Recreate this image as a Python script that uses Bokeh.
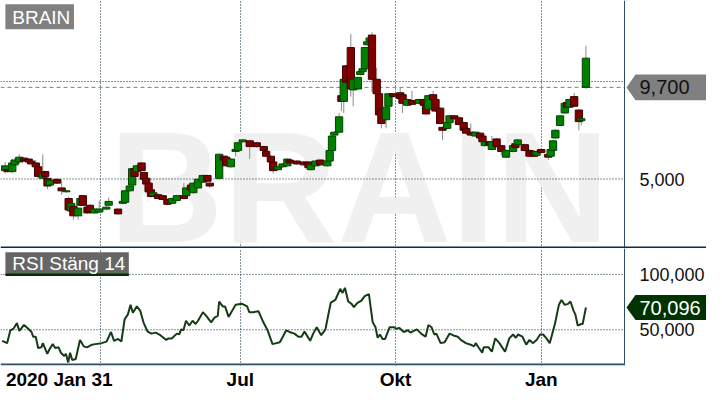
from bokeh.plotting import figure
from bokeh.layouts import column
from bokeh.models import FixedTicker, Range1d, ColumnDataSource
from bokeh.core.properties import value
from bokeh.embed import file_html
from bokeh.resources import INLINE

# ---------------- data ----------------
ticker_name = "BRAIN"
rsi_title = "RSI Stäng 14"

# trading-day index of each candle
c_day = [2, 3, 5, 6, 8, 10, 12, 13, 15, 16,
         18, 19, 20, 21, 24, 26, 28, 29, 30, 31,
         33, 34, 35, 37, 38, 40, 42, 45, 46, 50,
         52, 53, 55, 56, 57, 58, 60, 61, 62, 63,
         64, 65, 67, 69, 71, 73, 75, 78, 79, 81,
         82, 84, 86, 88, 89, 93, 95, 96, 98, 100,
         101, 103, 106, 109, 112, 113, 115, 116, 118, 120,
         122, 123, 126, 129, 131, 132, 134, 136, 139, 140,
         141, 142, 144, 145, 146, 147, 149, 150, 152, 153,
         154, 155, 156, 157, 158, 160, 161, 162, 164, 165,
         167, 170, 171, 173, 175, 178, 180, 181, 182, 184,
         185, 187, 188, 190, 191, 193, 195, 197, 198, 200,
         202, 204, 205, 206, 208, 209, 211, 213, 215, 218,
         219, 220, 223, 225, 227, 228, 230, 233, 234, 235,
         236, 238, 240, 241, 242, 244, 246, 247, 249]

c_open = [5.429, 5.478, 5.380, 5.725, 5.873, 6.070, 6.021, 5.922, 5.824, 5.626,
          5.035, 5.380, 5.035, 4.689, 4.985, 4.542, 4.344, 3.999, 3.358, 3.605,
          3.112, 3.654, 4.147, 3.555, 3.654, 3.260, 3.309, 3.457, 3.654, 3.457,
          3.753, 3.802, 4.394, 4.689, 5.528, 5.380, 5.824, 5.330, 5.035, 4.788,
          4.443, 4.147, 4.196, 4.147, 3.950, 3.753, 3.901, 4.147, 4.147, 4.689,
          4.295, 4.542, 4.837, 5.182, 4.788, 5.035, 6.169, 6.120, 5.626, 6.415,
          6.465, 6.908, 6.958, 6.859, 6.662, 6.415, 6.169, 5.873, 5.478, 5.626,
          5.676, 5.972, 5.922, 5.873, 5.873, 5.478, 5.676, 5.972, 5.676, 5.922,
          6.465, 7.253, 7.401, 9.275, 8.980, 10.804, 11.741, 9.571, 9.620, 10.360,
          10.508, 10.656, 11.889, 12.086, 12.382, 10.114, 9.374, 8.585, 8.042, 8.733,
          9.374, 9.423, 9.325, 8.782, 9.029, 8.881, 9.078, 8.831, 8.585, 9.325,
          9.078, 8.634, 7.648, 7.598, 7.894, 8.240, 8.141, 7.894, 7.598, 7.401,
          7.204, 7.352, 7.204, 6.711, 6.908, 6.514, 7.056, 6.711, 6.120, 6.415,
          6.810, 6.760, 6.760, 6.465, 6.415, 6.218, 6.514, 6.267, 6.169, 6.465,
          7.106, 7.747, 8.388, 8.930, 8.684, 9.226, 8.536, 7.993, 9.700]

c_high = [5.873, 5.528, 6.021, 6.070, 6.267, 6.120, 6.070, 5.972, 5.972, 5.774,
          6.267, 5.429, 5.133, 4.985, 5.035, 4.936, 4.443, 4.098, 3.802, 3.654,
          3.555, 4.049, 4.196, 3.605, 3.703, 3.506, 3.901, 3.605, 4.049, 3.506,
          3.901, 4.443, 4.689, 5.577, 5.577, 5.725, 5.873, 5.380, 5.084, 4.837,
          4.492, 4.344, 4.246, 4.196, 3.999, 4.049, 4.196, 4.788, 4.591, 4.739,
          4.837, 5.035, 5.232, 5.232, 4.837, 6.317, 6.218, 6.169, 6.070, 6.859,
          6.908, 7.056, 7.007, 6.908, 6.711, 6.465, 6.218, 5.922, 5.676, 5.824,
          6.070, 6.021, 5.972, 5.922, 5.922, 5.774, 5.972, 6.021, 5.972, 6.514,
          7.253, 7.451, 8.388, 9.325, 10.163, 10.853, 12.431, 10.163, 10.262, 10.557,
          10.705, 11.790, 12.086, 12.283, 12.530, 10.705, 9.423, 8.634, 8.733, 9.423,
          9.423, 9.719, 9.374, 9.127, 9.521, 9.127, 9.127, 8.881, 9.325, 9.521,
          9.127, 8.684, 7.697, 7.944, 8.289, 8.289, 8.191, 7.944, 7.648, 7.845,
          7.451, 7.401, 7.253, 6.958, 6.958, 7.204, 7.106, 6.760, 6.514, 6.760,
          6.958, 7.056, 6.810, 6.514, 6.465, 6.465, 6.563, 6.317, 6.563, 7.007,
          7.549, 8.289, 8.930, 8.980, 9.127, 9.423, 8.585, 8.141, 11.839]

c_low = [5.281, 5.331, 5.281, 5.676, 5.774, 5.873, 5.824, 5.725, 5.528, 5.035,
         4.985, 5.084, 4.492, 4.640, 4.739, 4.196, 4.295, 3.358, 3.309, 2.914,
         2.914, 3.605, 3.605, 3.210, 3.260, 3.210, 3.260, 3.408, 3.605, 3.161,
         3.703, 3.753, 4.344, 4.640, 5.084, 5.330, 5.380, 4.936, 4.689, 4.295,
         4.049, 4.098, 3.950, 3.901, 3.654, 3.703, 3.851, 3.950, 4.098, 4.394,
         4.246, 4.492, 4.788, 4.837, 4.542, 4.985, 5.922, 5.626, 5.577, 6.169,
         6.415, 6.859, 6.021, 6.613, 6.415, 6.120, 5.824, 5.281, 5.429, 5.577,
         5.626, 5.774, 5.725, 5.676, 5.528, 5.429, 5.626, 5.676, 5.626, 5.873,
         6.415, 7.204, 7.352, 8.486, 8.388, 9.917, 9.226, 8.733, 9.571, 10.311,
         10.459, 10.607, 11.839, 12.037, 9.472, 9.325, 8.240, 7.598, 7.598, 8.684,
         9.176, 9.078, 8.388, 8.733, 8.782, 8.831, 8.388, 8.289, 8.536, 9.029,
         8.437, 7.796, 7.007, 7.549, 7.845, 8.042, 7.747, 7.450, 7.303, 7.204,
         7.155, 7.056, 6.859, 6.662, 6.711, 6.465, 6.613, 6.218, 6.070, 6.366,
         6.563, 6.711, 6.415, 6.120, 6.120, 6.169, 6.317, 5.972, 6.120, 6.415,
         7.056, 7.697, 8.338, 8.634, 8.634, 8.684, 7.500, 7.747, 9.620]

c_close = [5.676, 5.380, 5.824, 5.972, 6.120, 5.922, 5.873, 5.774, 5.626, 5.133,
           5.281, 5.133, 4.640, 4.936, 4.788, 4.394, 4.394, 3.408, 3.753, 3.112,
           3.506, 3.999, 3.654, 3.260, 3.309, 3.457, 3.457, 3.555, 3.851, 3.210,
           3.851, 4.394, 4.640, 5.528, 5.133, 5.676, 5.429, 4.985, 4.739, 4.344,
           4.098, 4.295, 3.999, 3.950, 3.703, 3.999, 4.147, 3.999, 4.542, 4.443,
           4.788, 4.985, 5.182, 4.887, 4.640, 6.267, 5.972, 5.676, 6.021, 6.514,
           6.859, 7.007, 6.662, 6.662, 6.465, 6.169, 5.873, 5.429, 5.626, 5.774,
           6.021, 5.824, 5.774, 5.725, 5.577, 5.725, 5.922, 5.725, 5.922, 6.465,
           7.204, 7.401, 8.191, 8.980, 10.114, 9.966, 9.620, 10.114, 10.212, 10.508,
           10.656, 11.741, 12.037, 12.234, 10.114, 9.374, 8.289, 7.845, 8.684, 9.374,
           9.226, 9.127, 8.881, 9.078, 8.831, 9.078, 8.782, 8.338, 9.275, 9.078,
           8.486, 7.845, 7.500, 7.894, 8.240, 8.092, 7.796, 7.500, 7.352, 7.253,
           7.401, 7.106, 6.908, 6.908, 6.760, 6.908, 6.662, 6.415, 6.465, 6.711,
           6.613, 7.007, 6.465, 6.169, 6.169, 6.415, 6.366, 6.120, 6.514, 6.958,
           7.500, 8.240, 8.881, 8.684, 9.078, 8.733, 7.944, 8.092, 11.198]

rsi_day = [0.7, 2.8, 4.2, 5.5, 7.0, 8.0, 10.0, 11.8, 13.2, 13.9,
           15.0, 16.0, 17.4, 18.0, 19.9, 20.8, 22.2, 23.3, 24.7, 25.7,
           27.1, 27.8, 28.8, 29.6, 30.5, 32.0, 33.8, 35.4, 36.8, 38.9,
           40.3, 43.0, 45.1, 47.0, 48.3, 50.0, 51.4, 52.8, 54.2, 55.3,
           56.3, 58.0, 59.5, 60.8, 62.5, 64.2, 66.0, 68.0, 70.5, 71.5,
           72.9, 73.6, 75.0, 76.1, 76.8, 77.8, 78.9, 80.3, 81.7, 83.0,
           84.0, 86.1, 87.5, 89.6, 91.0, 92.4, 93.0, 94.5, 95.5, 97.0,
           100.0, 102.8, 104.9, 105.8, 107.6, 109.7, 111.8, 113.6, 115.7, 118.8,
           120.1, 121.5, 122.9, 125.0, 126.7, 128.0, 129.3, 131.7, 133.0, 134.5,
           136.4, 138.2, 139.6, 140.5, 142.4, 144.5, 145.5, 146.5, 147.9, 149.3,
           150.3, 151.7, 153.5, 154.9, 156.7, 158.3, 159.5, 160.4, 161.4, 162.5,
           163.6, 165.5, 167.4, 168.3, 169.7, 171.5, 173.3, 174.3, 177.1, 178.9,
           180.8, 182.0, 183.3, 184.5, 185.4, 187.2, 188.9, 191.0, 193.0, 194.5,
           195.8, 197.9, 200.0, 201.4, 202.1, 203.5, 204.9, 205.5, 207.6, 209.0,
           210.4, 212.2, 214.6, 216.4, 218.0, 219.2, 220.1, 222.0, 223.6, 225.0,
           226.4, 228.0, 229.5, 230.8, 232.2, 233.6, 235.8, 237.5, 238.6, 240.0,
           241.4, 242.4, 243.8, 244.5, 245.5, 247.0, 247.6, 249.0]

rsi_val = [39.9, 37.9, 49.5, 50.9, 56.0, 48.9, 54.3, 50.9, 48.0, 43.7,
           43.7, 33.5, 34.1, 37.9, 28.3, 32.1, 37.0, 33.5, 34.1, 29.2,
           26.3, 28.3, 20.5, 29.2, 22.6, 23.5, 40.8, 35.0, 34.1, 36.5,
           37.0, 37.9, 39.3, 48.0, 39.9, 41.7, 39.3, 59.5, 63.9, 72.5,
           65.3, 71.1, 66.8, 56.7, 48.6, 46.5, 47.4, 45.1, 40.8, 42.2,
           42.2, 43.7, 46.5, 46.0, 50.3, 49.5, 58.1, 53.8, 58.1, 55.2,
           58.1, 65.9, 62.5, 56.7, 61.0, 62.5, 75.5, 71.1, 71.1, 61.6,
           72.5, 73.4, 71.1, 65.9, 65.9, 66.8, 56.7, 49.5, 37.0, 38.7,
           43.7, 49.5, 48.0, 46.5, 43.7, 43.7, 48.3, 40.0, 46.5, 52.3,
           45.1, 50.3, 65.3, 74.6, 76.9, 87.0, 83.3, 87.9, 75.5, 73.4,
           70.5, 74.0, 76.3, 80.3, 82.1, 56.7, 52.3, 42.8, 45.7, 41.7,
           41.7, 52.3, 52.3, 50.9, 51.5, 48.0, 49.5, 47.4, 50.3, 46.5,
           43.7, 54.3, 52.3, 45.7, 46.5, 37.9, 38.7, 46.5, 44.5, 43.7,
           40.8, 37.9, 36.5, 35.0, 37.9, 33.5, 29.2, 34.1, 34.1, 30.1,
           42.2, 37.9, 30.1, 42.2, 45.7, 42.8, 45.7, 43.7, 36.5, 40.8,
           37.9, 40.8, 45.7, 45.7, 42.2, 37.9, 55.2, 72.5, 76.9, 72.5,
           73.4, 75.5, 66.8, 63.9, 53.8, 55.2, 55.2, 70.096]

last_price = 9.700
last_rsi = 70.096

x_label_days = [25, 102, 168, 230]
x_labels = ["2020 Jan 31", "Jul", "Okt", "Jan"]
x_grid_days = [42.5, 102, 168, 230]

price_grid = [5.0, 10.0]
price_ticks = [5.0]
price_tick_labels = ["5,000"]
rsi_grid = [50, 100]
rsi_ticks = [100, 50]
rsi_tick_labels = ["100,000", "50,000"]

# ---------------- geometry / style ----------------
FONT = "Liberation Sans"
FIG_W = 706
FRAME_W = 624          # pixel width of the chart area (rest: price labels)
X_DAYS = 265.4         # trading days visible in the chart area
X_END = X_DAYS * FIG_W / FRAME_W
TOP_H = 248
RSI_H = 147
RSI_AXIS_H = 30
P_LO, P_HI = 1.435, 14.157
R_LO, R_HI = 17.7, 123.4

GRID_C = "#06283a"
GRID_DASH = "1 2"
FRAME_C = "#2e4d6b"


def fx(px):            # figure pixel -> day units
    return px * X_DAYS / FRAME_W


def rx(px):            # reference chart pixel -> day units
    return px * X_DAYS / 637.0


def ry_top(py):
    return P_HI - py * (P_HI - P_LO) / 258.0


def ry_rsi(py):
    return R_HI - (py - 258.0) * (R_HI - R_LO) / 122.0


def fmt(v):
    return f"{v:.3f}".replace(".", ",")


def add_text(p, x, y, txt, size, color, bold=False, align="left", baseline="middle"):
    p.text(x=[x], y=[y], text=[txt], text_font=value(FONT),
           text_font_size=value(size), text_color=color, text_align=align,
           text_baseline=baseline, text_font_style="bold" if bold else "normal")


# ---------------- price panel ----------------
p1 = figure(width=FIG_W, height=TOP_H, x_range=Range1d(0, X_END),
            y_range=Range1d(P_LO, P_HI), output_backend="svg",
            toolbar_location=None, x_axis_location=None, y_axis_location=None,
            min_border=0)
p1.outline_line_color = None
p1.background_fill_color = "white"
p1.ygrid.grid_line_color = None
p1.xgrid.ticker = FixedTicker(ticks=x_grid_days)
p1.xgrid.grid_line_color = GRID_C
p1.xgrid.grid_line_dash = GRID_DASH

# watermark
p1.text(x=[rx(111)], y=[ry_top(194)], text=[ticker_name], text_font=value(FONT),
        text_font_size=value("158px"), text_font_style="bold", text_color="#f0f0f0",
        text_align="left", text_baseline="middle")

p1.segment(x0=[0] * len(price_grid), y0=price_grid, x1=[X_DAYS] * len(price_grid),
           y1=price_grid, line_color=GRID_C, line_dash=GRID_DASH, line_width=1)
p1.segment(x0=[0], y0=[last_price], x1=[X_DAYS], y1=[last_price],
           line_color="#808080", line_dash="4 3", line_width=1)

up = [c >= o for o, c in zip(c_open, c_close)]
src = ColumnDataSource(dict(
    x=c_day, high=c_high, low=c_low,
    top=[max(o, c) for o, c in zip(c_open, c_close)],
    bottom=[min(o, c) for o, c in zip(c_open, c_close)],
    fill=["#008000" if u else "#800000" for u in up],
    line=["#004400" if u else "#3c0000" for u in up],
))
p1.segment(x0="x", y0="low", x1="x", y1="high", source=src,
           line_color="#8a8a8a", line_width=1)
p1.vbar(x="x", width=3.1, top="top", bottom="bottom", source=src,
        fill_color="fill", line_color="line", line_width=1)

# frame lines
p1.segment(x0=[X_DAYS], y0=[P_LO], x1=[X_DAYS], y1=[P_HI], line_color=FRAME_C, line_width=1)
ppx = (P_HI - P_LO) / TOP_H
p1.segment(x0=[0], y0=[P_LO + ppx], x1=[X_END], y1=[P_LO + ppx],
           line_color="#0e2c40", line_width=2)

# name box
p1.quad(left=[rx(5)], right=[rx(75)], top=[ry_top(4)], bottom=[ry_top(30)],
        fill_color="#808080", line_color=None)
add_text(p1, rx(12), ry_top(17.5), ticker_name, "19px", "white")

# right-hand labels and last-price tag
for t, lab in zip(price_ticks, price_tick_labels):
    add_text(p1, fx(639), t, lab, "18px", "#111111")
h = 13.5 * (P_HI - P_LO) / 258.0
p1.patch(x=[fx(626), fx(635), fx(706), fx(706), fx(635)],
         y=[last_price, last_price + h, last_price + h, last_price - h, last_price - h],
         fill_color="#808080", line_color=None)
add_text(p1, fx(639), last_price, fmt(last_price), "20px", "#111111")

# ---------------- RSI panel ----------------
p2 = figure(width=FIG_W, height=RSI_H, x_range=p1.x_range,
            y_range=Range1d(R_LO, R_HI), output_backend="svg",
            toolbar_location=None, y_axis_location=None,
            min_border=0, min_border_bottom=RSI_AXIS_H)
p2.outline_line_color = None
p2.ygrid.grid_line_color = None
p2.xgrid.ticker = FixedTicker(ticks=x_grid_days)
p2.xgrid.grid_line_color = GRID_C
p2.xgrid.grid_line_dash = GRID_DASH

ax = p2.xaxis[0]
ax.ticker = FixedTicker(ticks=x_label_days)
ax.major_label_overrides = {d: lab for d, lab in zip(x_label_days, x_labels)}
ax.axis_line_color = None
ax.major_tick_line_color = None
ax.minor_tick_line_color = None
ax.major_tick_out = 0
ax.major_tick_in = 0
ax.minor_tick_out = 0
ax.minor_tick_in = 0
ax.major_label_standoff = 3
ax.major_label_text_font = FONT
ax.major_label_text_font_style = "bold"
ax.major_label_text_font_size = "19px"
ax.major_label_text_color = "#000000"

p2.segment(x0=[0] * len(rsi_grid), y0=rsi_grid, x1=[X_DAYS] * len(rsi_grid),
           y1=rsi_grid, line_color=GRID_C, line_dash=GRID_DASH, line_width=1)

p2.line(rsi_day, rsi_val, line_color="#163c16", line_width=2)

rpx = (R_HI - R_LO) / (RSI_H - RSI_AXIS_H)
p2.segment(x0=[X_DAYS], y0=[R_LO], x1=[X_DAYS], y1=[R_HI], line_color=FRAME_C, line_width=1)
p2.segment(x0=[0], y0=[R_LO + rpx], x1=[X_DAYS], y1=[R_LO + rpx],
           line_color=FRAME_C, line_width=2)

# title box
p2.quad(left=[rx(5)], right=[rx(131)], top=[ry_rsi(262)], bottom=[ry_rsi(285)],
        fill_color="#666666", line_color=None)
p2.segment(x0=[rx(5)], y0=[ry_rsi(285.5)], x1=[rx(131)], y1=[ry_rsi(285.5)],
           line_color="#003300", line_width=2.5)
add_text(p2, rx(12), ry_rsi(273.5), rsi_title, "19px", "white")

for t, lab in zip(rsi_ticks, rsi_tick_labels):
    add_text(p2, fx(639), t, lab, "18px", "#111111")
hr = 13 * (R_HI - R_LO) / 122.0
p2.patch(x=[fx(626), fx(635), fx(706), fx(706), fx(635)],
         y=[last_rsi, last_rsi + hr, last_rsi + hr, last_rsi - hr, last_rsi - hr],
         fill_color="#003300", line_color=None)
add_text(p2, fx(639), last_rsi, fmt(last_rsi), "20px", "white")

layout = column(p1, p2, spacing=0)
open("out.html", "w").write(file_html(layout, INLINE))
